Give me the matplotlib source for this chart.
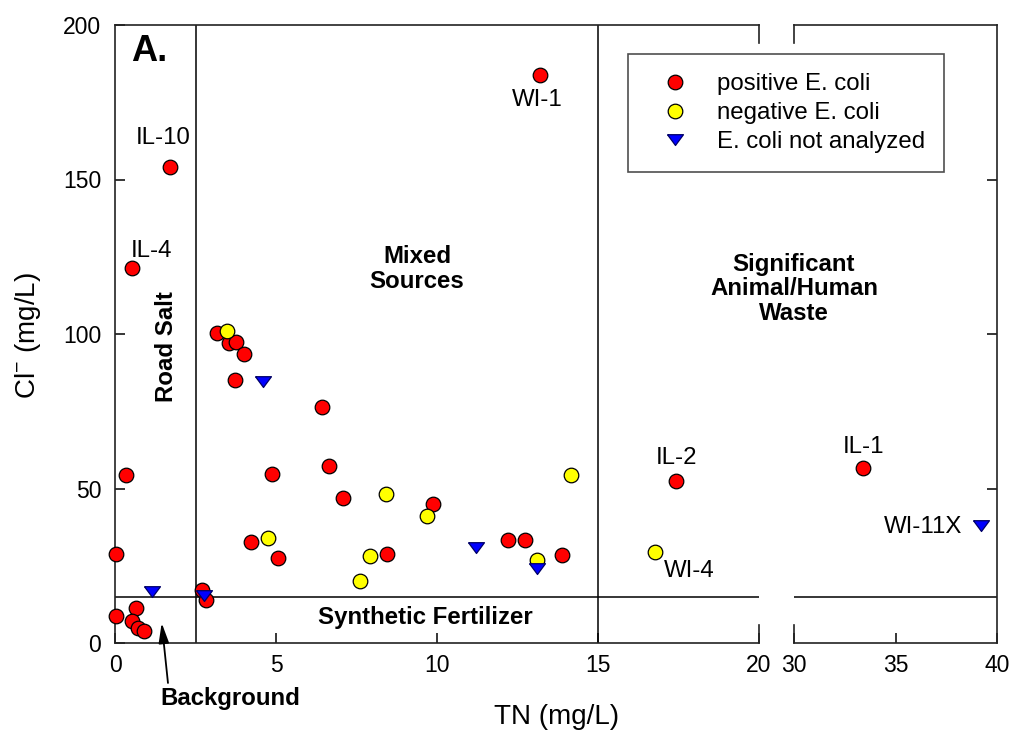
import numpy as np
import matplotlib
matplotlib.use("Agg")
import matplotlib.pyplot as plt

plt.rcParams['font.family'] = ['Liberation Sans', 'DejaVu Sans']
plt.rcParams['mathtext.fontset'] = 'custom'
plt.rcParams['mathtext.rm'] = 'Liberation Sans'
plt.rcParams['mathtext.default'] = 'regular'

# TN (mg/L) and Cl- (mg/L)
pos_tn = [1.71, 0.54, 13.2, 3.18, 3.55, 3.76, 4.01, 3.73, 6.42, 0.34, 4.87, 6.64, 7.07,
          9.89, 0.03, 4.21, 5.05, 8.46, 12.22, 12.73, 13.87, 2.69, 2.83, 0.03, 0.65,
          0.54, 0.72, 0.91, 17.42, 33.4]
pos_cl = [154.1, 121.3, 183.8, 100.2, 97.2, 97.5, 93.5, 85.1, 76.5, 54.4, 54.6, 57.3, 46.8,
          45.0, 28.7, 32.8, 27.4, 28.7, 33.3, 33.3, 28.5, 17.2, 13.9, 8.7, 11.2,
          7.2, 4.7, 4.0, 52.5, 56.5]

neg_tn = [3.47, 8.42, 4.76, 7.92, 7.61, 9.68, 13.10, 14.16, 16.76]
neg_cl = [101.0, 48.2, 34.1, 28.0, 20.1, 41.2, 26.9, 54.4, 29.4]

na_tn = [4.61, 1.14, 2.76, 11.21, 13.10, 39.2]
na_cl = [84.8, 16.8, 15.5, 31.2, 24.2, 38.2]

site_names = ["IL-10", "IL-4", "WI-1", "IL-2", "WI-4", "IL-1", "WI-11X"]
site_tn = [1.5, 1.14, 13.1, 17.44, 17.84, 33.4, 38.3]
site_cl = [163.5, 127.0, 175.7, 59.8, 23.4, 63.3, 37.6]

# source boundaries
salt_tn = 2.5
waste_tn = 15
fert_cl = 15

fs_tick = 16.5
fs = 17.3
fs_lab = 20
W, H = 1013, 740

# flat downward triangle like the original symbol
tri = [(-1, 0.6), (1, 0.6), (0, -0.75), (-1, 0.6)]

fig = plt.figure(figsize=(W / 100, H / 100), dpi=100)
ax1 = fig.add_axes([115 / W, 97 / H, 644 / W, 618 / H])
ax2 = fig.add_axes([794 / W, 97 / H, 203 / W, 618 / H])

series = [
    (pos_tn, pos_cl, 'o', '#ff0000', 10.5, 'positive E. coli'),
    (neg_tn, neg_cl, 'o', '#ffff00', 10.5, 'negative E. coli'),
    (na_tn, na_cl, tri, '#0000ff', 11.5, 'E. coli not analyzed'),
]

handles = []
for ax, lo, hi in [(ax1, 0, 20), (ax2, 30, 40)]:
    for tn, cl, mk, col, ms, lab in series:
        tn = np.array(tn)
        cl = np.array(cl)
        m = (tn >= lo) & (tn <= hi)
        h, = ax.plot(tn[m], cl[m], ls='none', marker=mk, ms=ms, mfc=col,
                     mec='black' if mk == 'o' else '#000066', mew=0.9,
                     clip_on=False, zorder=3, label=lab)
        if ax is ax1:
            handles.append(h)
    ax.set_xlim(lo, hi)
    ax.set_ylim(0, 200)
    ax.axhline(fert_cl, color='black', lw=1.1, zorder=1)
    for s in ax.spines.values():
        s.set_linewidth(1.2)
        s.set_color('#222222')
    ax.tick_params(direction='in', length=7, width=1.1, labelsize=fs_tick, pad=8)

ax1.axvline(salt_tn, color='black', lw=1.1, zorder=1)
ax1.axvline(waste_tn, color='black', lw=1.1, zorder=1)

ax1.spines['right'].set_visible(False)
ax2.spines['left'].set_visible(False)
ax1.set_xticks([0, 5, 10, 15, 20])
ax2.set_xticks([30, 35, 40])
ax1.set_yticks([0, 50, 100, 150, 200])
ax2.set_yticks([50, 100, 150])
ax2.tick_params(axis='y', left=False, labelleft=False, right=True)
ax1.tick_params(axis='y', pad=10)

# break marks
bl = 18 / 618
for ax, xb in [(ax1, 20), (ax2, 30)]:
    ax.axvline(xb, 0, bl, color='#222222', lw=1.2, clip_on=False)
    ax.axvline(xb, 1 - bl, 1, color='#222222', lw=1.2, clip_on=False)

# site labels
for name, x, y in zip(site_names, site_tn, site_cl):
    ax = ax1 if x <= 20 else ax2
    ha = 'right' if name == "WI-11X" else 'center'
    ax.text(x, y, name, fontsize=fs, ha=ha, va='center')

# region labels
ax1.text(0.5, 191.3, "A.", fontsize=26, fontweight='bold', ha='left', va='center')
ax1.text(9.38, 121, "Mixed\nSources", fontsize=fs, fontweight='bold', ha='center',
         va='center', linespacing=1.15)
ax2.text(30, 114.6, "Significant\nAnimal/Human\nWaste", fontsize=fs, fontweight='bold',
         ha='center', va='center', linespacing=1.1)
ax1.text(1.61, 95.8, "Road Salt", fontsize=fs, fontweight='bold', rotation=90,
         ha='center', va='center')
ax1.text(9.63, 8.1, "Synthetic Fertilizer", fontsize=fs, fontweight='bold',
         ha='center', va='center')
ax1.annotate("Background", xy=(1.45, 6.5), xytext=(3.57, -18), fontsize=fs,
             fontweight='bold', ha='center', va='center', annotation_clip=False,
             arrowprops=dict(arrowstyle='-|>,head_length=0.7,head_width=0.18',
                             color='black', lw=1.3, relpos=(0.06, 1.0), shrinkA=1,
                             shrinkB=0))

fig.text(28 / W, 1 - 336 / H, "Cl$^{-}$ (mg/L)", fontsize=fs_lab, rotation=90,
         ha='center', va='center')
fig.text(557 / W, 1 - 717 / H, "TN (mg/L)", fontsize=fs_lab, ha='center', va='center')

leg = fig.legend(handles=handles, loc='upper left', bbox_to_anchor=(628 / W, 1 - 54 / H),
                 fontsize=fs, frameon=True, fancybox=False, borderpad=0.8,
                 handlelength=2.3, handletextpad=0.6, labelspacing=0.28,
                 borderaxespad=0, numpoints=1)
leg.get_frame().set_edgecolor('#222222')
leg.get_frame().set_linewidth(1.2)

fig.savefig("out.png", dpi=100)
